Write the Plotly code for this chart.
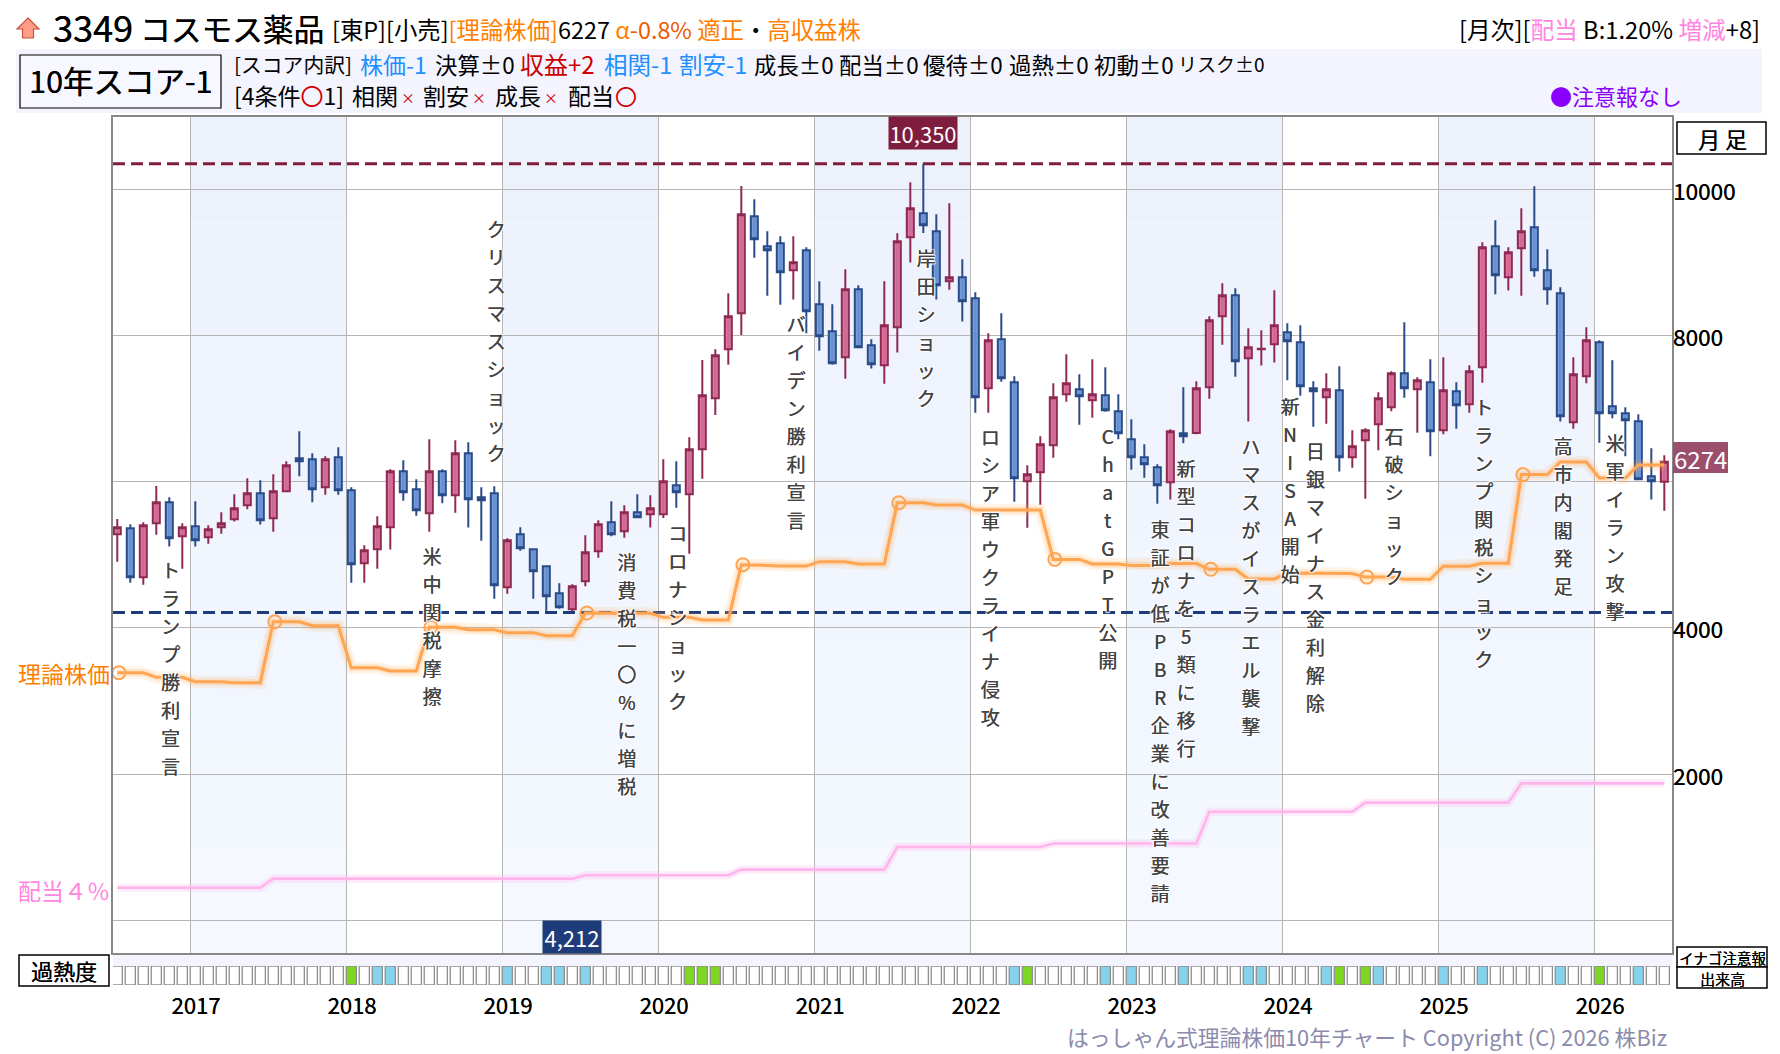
import plotly.graph_objects as go

W, H = 1780, 1054
FONT = "Noto Sans CJK JP"

# Monthly candles for the ten-year window (months numbered 0-119)
open_ = [5280,5362,4692,5431,5718,5253,5390,5239,5376,5486,5677,5841,5499,5869,6320,6306,5923,6334,5882,4884,
         5075,5376,6142,5896,5568,6142,5814,6388,5786,5841,4555,5280,5075,4843,4473,4254,4637,5048,5445,5321,
         5581,5554,5554,5951,5828,6443,7141,7811,8304,9631,9220,9261,8892,9165,8427,8057,7702,8632,7866,7592,
         8112,9343,9672,9425,8741,8796,8509,7278,7948,7360,6005,6128,6498,7196,7264,7113,7182,6963,6580,6334,
         6197,5992,6662,6667,7291,8263,8550,7688,7811,7880,8044,7907,7278,7154,7250,6334,6566,6785,7018,7483,
         7264,7360,6703,7237,7059,7565,9220,8796,9193,9480,8892,8577,6812,7442,7907,7031,6936,6826,6074,6001]
high = [5490,5417,5444,5942,5786,5431,5732,5403,5581,5828,6046,6019,6101,6279,6689,6388,6347,6470,5923,5130,
        5527,6170,6293,6033,6580,6170,6566,6539,5923,5937,5226,5376,5089,4856,4610,4596,5267,5472,5732,5677,
        5828,5814,6306,6279,6607,7665,7811,8577,10045,9863,9425,9357,9357,9206,8741,8427,8906,8687,7948,8741,
        9398,10096,10350,9658,9808,9042,8591,8030,8304,7442,6224,6621,7346,7743,7469,7674,7565,7196,6854,6511,
        6238,6717,7291,7373,8263,8714,8646,8098,8071,8618,8167,8139,7373,7483,7579,6703,6730,7223,7510,8180,
        7428,7674,7702,7360,7592,9275,9576,9206,9740,10041,9179,8659,7702,8112,7934,7661,7018,6922,6457,6361]
low = [4906,4619,4592,5276,5112,4811,5112,5153,5289,5454,5622,5413,5317,5855,6074,5718,5823,5823,4619,4619,
       4811,5071,5741,5536,5317,5704,5577,5372,5194,4400,4469,5057,4400,4212,4263,4230,4569,4961,5253,5235,
       5513,5372,5504,5645,5016,6042,6913,7601,8007,9065,8545,8422,8491,8030,7793,7601,7410,7825,7547,7341,
       7766,8997,9403,8491,8627,8190,6945,6945,7369,5727,5371,5686,6329,7095,6780,6876,6958,6580,6165,6055,
       5700,5755,6525,6648,7136,7875,7437,6822,7588,7629,7387,7177,6753,6794,6138,6192,5768,6429,6963,7150,
       6671,6347,6648,6726,6945,7355,8563,8614,8545,8805,8422,6822,6726,7346,6534,6867,6347,6019,5755,5604]
close = [5376,4692,5403,5718,5226,5376,5198,5349,5431,5636,5841,5472,5869,6224,6279,5896,6306,5882,4870,5061,
         5390,6142,5855,5609,6142,5814,6388,5759,5745,4583,5198,5089,4774,4432,4282,4569,5034,5417,5280,5581,
         5513,5636,6005,5855,6443,7182,7729,8263,9658,9316,9165,8865,9001,8331,7989,7620,8632,7838,7606,8139,
         9288,9740,9507,8687,8796,8468,7154,7934,7414,6046,6101,6512,7154,7346,7168,7196,6977,6662,6334,6238,
         5951,6689,6621,7278,8208,8550,7647,7838,7820,8139,7921,7305,7237,7264,6334,6484,6703,7141,7483,7278,
         7387,6689,7250,7045,7510,9206,8823,9138,9425,8892,8632,6895,7469,7934,6936,6936,6840,6033,6005,6274]

# Fair-value line, one reading per month
theory = [3388,3388,3388,3324,3324,3324,3264,3264,3264,3251,3251,3251,4085,4085,4085,4030,4030,4030,3456,3456,
          3456,3410,3410,3410,4008,4008,4008,3976,3976,3976,3935,3935,3935,3894,3894,3894,4204,4204,4204,4200,
          4200,4200,4145,4145,4145,4108,4108,4108,4865,4865,4855,4846,4846,4846,4906,4906,4906,4874,4874,4874,
          5713,5713,5713,5681,5681,5681,5612,5612,5612,5612,5612,5612,4937,4937,4937,4874,4874,4874,4855,4855,
          4855,4880,4880,4880,4802,4802,4802,4670,4670,4670,4750,4750,4750,4745,4745,4745,4695,4695,4695,4665,
          4665,4665,4845,4845,4845,4884,4884,4884,6097,6097,6097,6270,6270,6270,6051,6051,6051,6229,6229,6229]
# Dividend-implied line (price at a 4% yield)
dividend = [446]*12 + [570]*24 + [617]*12 + [694]*12 + [1004]*12 + [1051]*12 + [1486]*12 + [1610]*12 + [1874]*12
year_marks = [0, 12, 24, 36, 48, 60, 72, 84, 96, 108]

price_high = 10350
price_low = 4212
last_close = 6274

years = ["2017","2018","2019","2020","2021","2022","2023","2024","2025","2026"]
price_ticks = [0, 2000, 4000, 6000, 8000, 10000]
price_labels = [2000, 4000, 8000, 10000]

# Overheat strip: month numbers flagged in each colour
heat_blue = [20,21,30,33,34,36,69,76,78,82,87,88,93,97,102,105,111,117]
heat_green = [18,44,45,46,70,94,96,114]

# Market events written down the chart: (text, month position, price at first character)
events = [
    ("トランプ勝利宣言", 4.09, 4752),
    ("米中関税摩擦", 24.2, 4934),
    ("クリスマスショック", 29.13, 9417),
    ("消費税一〇%に増税", 39.18, 4862),
    ("コロナショック", 43.1, 5258),
    ("バイデン勝利宣言", 52.2, 8118),
    ("岸田ショック", 62.2, 9020),
    ("ロシア軍ウクライナ侵攻", 67.15, 6571),
    ("ChatGPT公開", 76.18, 6576),
    ("東証が低PBR企業に改善要請", 80.2, 5313),
    ("新型コロナを5類に移行", 82.2, 6147),
    ("ハマスがイスラエル襲撃", 87.18, 6439),
    ("新NISA開始", 90.2, 6996),
    ("日銀マイナス金利解除", 92.15, 6371),
    ("石破ショック", 98.2, 6576),
    ("トランプ関税ショック", 105.1, 6982),
    ("高市内閣発足", 111.2, 6439),
    ("米軍イラン攻撃", 115.2, 6488),
]
CHAR_STEP = 383  # price units between stacked characters

months = list(range(len(close)))
X_RANGE = [-0.33, 119.59]
Y_RANGE = [-447, 10989]
YEAR_LINES = [5.6 + 12 * i for i in range(10)]

fig = go.Figure()

# Dashed high / low reference lines
fig.add_trace(go.Scatter(x=X_RANGE, y=[price_high, price_high], mode="lines",
                         line=dict(color="#7f1d3f", width=3, dash="12px,6px")))
fig.add_trace(go.Scatter(x=X_RANGE, y=[price_low, price_low], mode="lines",
                         line=dict(color="#1f3c7a", width=3, dash="12px,6px")))

fig.add_trace(go.Candlestick(
    x=months, open=open_, high=high, low=low, close=close,
    increasing=dict(line=dict(color="#8f2a52", width=2), fillcolor="#de76a2"),
    decreasing=dict(line=dict(color="#2a4c88", width=2), fillcolor="#769fdd"),
    whiskerwidth=0,
))

# Darker centre stripe on each candle body
def body_stripe(rising):
    xs, ys = [], []
    for m, o, c in zip(months, open_, close):
        if (c >= o) == rising:
            xs += [m, m, None]
            ys += [o, c, None]
    return xs, ys

for rising, tint in ((True, "rgba(110,40,70,0.15)"), (False, "rgba(30,50,110,0.14)")):
    sx, sy = body_stripe(rising)
    fig.add_trace(go.Scatter(x=sx, y=sy, mode="lines", line=dict(color=tint, width=2.5)))

# Fair-value and dividend lines, each with a soft glow
fig.add_trace(go.Scatter(x=months, y=theory, mode="lines",
                         line=dict(color="rgba(255,170,80,0.13)", width=12)))
fig.add_trace(go.Scatter(x=months, y=theory, mode="lines",
                         line=dict(color="rgba(255,170,80,0.2)", width=7)))
fig.add_trace(go.Scatter(x=months, y=theory, mode="lines",
                         line=dict(color="#ffa552", width=3)))
fig.add_trace(go.Scatter(x=[m + 0.12 for m in year_marks], y=[theory[m] for m in year_marks], mode="markers",
                         marker=dict(symbol="circle-open", size=13, color="#ffa552", line=dict(width=2))))
fig.add_trace(go.Scatter(x=months, y=dividend, mode="lines",
                         line=dict(color="rgba(255,180,235,0.28)", width=8)))
fig.add_trace(go.Scatter(x=months, y=dividend, mode="lines",
                         line=dict(color="#ffb4ec", width=2.6)))

# Event captions, one character per row
ev_x, ev_y, ev_t = [], [], []
for text, pos, top in events:
    for i, ch in enumerate(text):
        ev_x.append(pos)
        ev_y.append(top - i * CHAR_STEP)
        ev_t.append(ch)
halo = "0.3px 0 0 #444, 1px 1px 1px #fff, -1px -1px 1px #fff, 1px -1px 1px #fff, -1px 1px 1px #fff, 0 0 3px #fff"
fig.add_trace(go.Scatter(x=ev_x, y=ev_y, text=ev_t, mode="text", textposition="middle center",
                         textfont=dict(family=FONT, size=19, color="#444444", shadow=halo)))

# Overheat strip on its own axes
heat_fill = ["#ffffff"] * len(months)
for m in heat_blue:
    heat_fill[m] = "#85d2ec"
for m in heat_green:
    heat_fill[m] = "#7fd722"
fig.add_trace(go.Bar(x=months, y=[1] * len(months), base=0, width=0.78, xaxis="x2", yaxis="y2",
                     marker=dict(color=heat_fill, line=dict(color="#8e8e8e", width=1.3))))

shapes = []
annos = []
STRONG = "0.35px 0 0 #000"


def px(x, y):
    return x / W, 1 - y / H


def rect(x0, y0, x1, y1, fill, line=None, width=1, layer="below"):
    a, b = px(x0, y0)
    c, d = px(x1, y1)
    shapes.append(dict(type="rect", xref="paper", yref="paper", x0=a, y0=b, x1=c, y1=d,
                       fillcolor=fill, line=dict(color=line or fill, width=width if line else 0), layer=layer))


def note(text, x, y, size=20, color="#000000", anchor="left", shadow=None):
    a, b = px(x, y)
    font = dict(family=FONT, size=size, color=color)
    if shadow:
        font["shadow"] = shadow
    annos.append(dict(text=text, x=a, y=b, xref="paper", yref="paper", xanchor=anchor, yanchor="middle",
                      showarrow=False, borderpad=0, font=font))


def col(text, color):
    return f'<span style="color:{color}">{text}</span>'


# Alternate-year shading, slightly deeper toward the top
SLICES = 8
for start in YEAR_LINES[::2]:
    for s in range(SLICES):
        f = s / SLICES
        low_v = Y_RANGE[0] + (Y_RANGE[1] - Y_RANGE[0]) * f
        high_v = Y_RANGE[0] + (Y_RANGE[1] - Y_RANGE[0]) * (f + 1 / SLICES)
        shade = f"rgb({int(245 - 10 * f)},{int(248 - 8 * f)},{int(255 - 3 * f)})"
        shapes.append(dict(type="rect", xref="x", yref="y", x0=start, x1=start + 12, y0=low_v, y1=high_v,
                           fillcolor=shade, line=dict(width=0), layer="below"))

# Header panel and strip backing
rect(16, 49, 1762, 113, "#f4f4fe")
rect(113, 953, 1672, 966, "#f4f4fe")
rect(20, 55, 221, 108, "#f7f7ff", "#000000", 1.2)
rect(19, 955, 109, 986, "#ffffff", "#000000", 1.5)
rect(1677, 122, 1766, 154, "#ffffff", "#000000", 1.5)
rect(1677, 947, 1767, 967, "#ffffff", "#000000", 1.5)
rect(1677, 967, 1767, 988, "#ffffff", "#000000", 1.5)

# Up-arrow badge beside the title
arrow = [(28, 18), (39, 29), (33.5, 29), (33.5, 38), (22.5, 38), (22.5, 29), (17, 29)]
path = " ".join(("M" if i == 0 else "L") + f"{x / W:.5f},{1 - y / H:.5f}" for i, (x, y) in enumerate(arrow)) + " Z"
shapes.append(dict(type="path", xref="paper", yref="paper", path=path, fillcolor="#ff9d88",
                   line=dict(color="#c8503c", width=1.2)))

# Title row
ORANGE = "#ff8000"
HOT = "#f05a00"
RED = "#cc0000"
BLUE = "#1e90ff"
PINK = "#ff85e0"
note("3349", 52, 26, 36, shadow=STRONG)
note("コスモス薬品", 139, 27, 30.7, shadow=STRONG)
note(f"[東P][小売]{col('[理論株価]', ORANGE)}6227 {col('α', ORANGE)}{col('-0.8%', HOT)} {col('適正', ORANGE)}・{col('高収益株', ORANGE)}",
     331, 28.5, 23.4)
note(f"[月次][{col('配当', PINK)} B:1.20% {col('増減', PINK)}+8]", 1761, 29, 23.7, anchor="right")

# Score panel: breakdown row and four-condition row
note("10年スコア-1", 120, 79.5, 30.5, anchor="center", shadow=STRONG)
note("[スコア内訳]", 232.7, 64, 20.8)
score_row = [
    (col("株価-1", BLUE), 358.7, 23),
    ("決算±0", 433.6, 22.4),
    (col("収益+2", RED), 518.8, 24),
    (col("相関-1", BLUE), 602.8, 23.5),
    (col("割安-1", BLUE), 677.7, 23.5),
    ("成長±0", 752.6, 22.4),
    ("配当±0", 837.8, 22.4),
    ("優待±0", 921.8, 22.4),
    ("過熱±0", 1008, 22.4),
    ("初動±0", 1093, 22.4),
    ("リスク±0", 1177, 19),
]
for label, x, size in score_row:
    note(label, x, 64, size)
note(f"[4条件{col('〇', RED)}1]", 232.7, 95.5, 23)
condition_row = [
    ("相関", 350.8, 23), (col("×", RED), 399.6, 14),
    ("割安", 422.3, 23), (col("×", RED), 471, 14),
    ("成長", 493.8, 23), (col("×", RED), 542.6, 14),
    ("配当", 566.5, 23), (col("〇", RED), 614, 22),
]
for label, x, size in condition_row:
    note(label, x, 96.5 if size == 14 else 95.5, size)
note("●注意報なし", 1549, 95.5, 22, "#8a00ff")

# Side captions
note("理論株価", 17, 673, 23, ORANGE)
note("配当４％", 17, 890, 23, PINK)
note("月 足", 1722, 138, 22, anchor="center", shadow=STRONG)
note("過熱度", 64, 970, 22, anchor="center", shadow=STRONG)
note("イナゴ注意報", 1722, 957, 14.5, anchor="center", shadow=STRONG)
note("出来高", 1722, 978, 15, anchor="center", shadow=STRONG)


# High, low and latest-price flags
def flag(text, month, y0, y1, half, fill):
    a, b = px(0, (y0 + y1) / 2)
    annos.append(dict(text=text, x=month, y=b, xref="x", yref="paper", xanchor="center", yanchor="middle",
                      showarrow=False, width=2 * half, height=y1 - y0, bgcolor=fill, borderpad=0,
                      font=dict(family=FONT, size=22, color="#ffffff")))


flag(f"{price_high:,}", 62, 117, 149, 34, "#7f1d3f")
flag(f"{price_low:,}", 35, 921, 953, 29, "#1f3c7a")
rect(1673, 442, 1728, 473, "#9b4f6c", layer="above")
note(str(last_close), 1700, 458, 24, "#ffffff", anchor="center")

# Price scale captions beside the frame, tied to the price axis
for value in price_labels:
    annos.append(dict(text=str(value), x=1672 / W, y=value, xref="paper", yref="y", xanchor="left",
                      yanchor="middle", yshift=-0.5, showarrow=False, borderpad=0,
                      font=dict(family=FONT, size=22.5, color="#000000", shadow=STRONG)))

note("はっしゃん式理論株価10年チャート Copyright (C) 2026 株Biz", 1668, 1036, 21.8, "#8a8aac", anchor="right")

fig.update_layout(
    width=W, height=H, autosize=False, showlegend=False, template=None,
    margin=dict(l=0, r=0, t=0, b=0), paper_bgcolor="#ffffff", plot_bgcolor="#ffffff",
    boxgap=0.46, boxgroupgap=0, barmode="overlay", hovermode=False,
    shapes=shapes, annotations=annos,
    font=dict(family=FONT, color="#000000"),
    xaxis=dict(domain=[113 / W, 1672 / W], range=X_RANGE, anchor="y", tickmode="array", tickvals=YEAR_LINES,
               ticktext=[""] * len(YEAR_LINES), ticks="", showgrid=True, gridcolor="#b6b6b6", gridwidth=1,
               showline=True, linecolor="#888888", linewidth=2, mirror=True, zeroline=False,
               rangeslider=dict(visible=False)),
    yaxis=dict(domain=[1 - 953 / H, 1 - 117 / H], range=Y_RANGE, side="right", tickmode="array",
               tickvals=price_ticks, showticklabels=False, ticks="", showgrid=True, gridcolor="#b6b6b6",
               gridwidth=1, showline=True, linecolor="#888888", linewidth=2, mirror=True, zeroline=False),
    xaxis2=dict(domain=[113 / W, 1672 / W], range=X_RANGE, anchor="y2", tickmode="array",
                tickvals=[6.05 + 12 * i for i in range(len(years))], ticktext=years, ticks="", showgrid=False,
                showline=False, zeroline=False, ticklabelstandoff=6,
                tickfont=dict(family=FONT, size=22, color="#000000", shadow=STRONG)),
    yaxis2=dict(domain=[1 - 985 / H, 1 - 966 / H], range=[0, 1], anchor="x2", showticklabels=False, ticks="",
                showgrid=False, showline=False, zeroline=False),
)

fig.write_html("out.html")
